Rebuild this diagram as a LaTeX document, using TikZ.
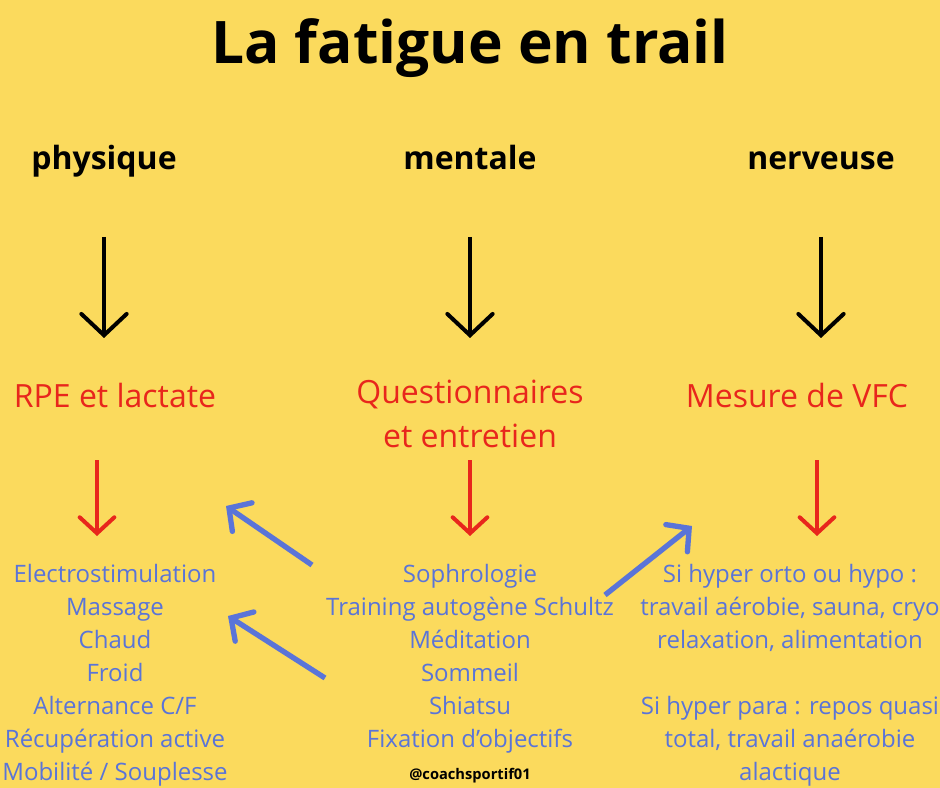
\documentclass[tikz,border=0pt]{standalone}
\usepackage{fontspec}
\setmainfont{Open Sans}
\usetikzlibrary{arrows.meta}
\definecolor{fond}{HTML}{FBDA5D}
\definecolor{rouge}{HTML}{E8261C}
\definecolor{bleu}{HTML}{5A74D8}
\tikzset{
  titre/.style={font=\bfseries\fontsize{44}{50}\selectfont},
  tete/.style={font=\bfseries\fontsize{24}{28}\selectfont, anchor=base},
  mesure/.style={text=rouge, align=center, font=\fontsize{24}{33}\selectfont},
  liste/.style={text=bleu, align=center, font=\fontsize{18}{24.75}\selectfont, anchor=north},
  noire/.style={line width=3pt, -{Straight Barb[length=16pt,width=34pt,line cap=round]}},
  fleche rouge/.style={rouge, line width=3pt, -{Straight Barb[length=12pt,width=26pt,line cap=round]}},
  fleche bleue/.style={bleu, line width=4pt, -{Straight Barb[length=12pt,width=26pt,line cap=round]}}
}
\begin{document}
\begin{tikzpicture}[x=0.75pt, y=-0.75pt]
        \fill [fond] (0, 0) rectangle (940, 788);
        \useasboundingbox (0, 0) rectangle (940, 788);
        \node [titre] (titre) at (470, 48) {La fatigue en trail};

        % colonnes
        \foreach \nom/\x/\texte in {phys/104/physique, ment/470/mentale, nerv/821/nerveuse} {
            \node [tete] (\nom) at (\x, 170) {\texte};
            \coordinate (\nom-a) at (\x, 237);
            \coordinate (\nom-b) at (\x, 338);
            \draw [noire] (\nom-a) -- (\nom-b);
        }
        \node [mesure] (rpe) at (115, 395) {RPE et lactate};
        \node [mesure, anchor=north] (quest) at (470, 375) {Questionnaires\\et entretien};
        \node [mesure] (vfc) at (797, 395) {Mesure de VFC};

        \foreach \nom/\x in {r1/97, r2/470, r3/817} {
            \coordinate (\nom-a) at (\x, 460);
            \coordinate (\nom-b) at (\x, 536);
            \draw [fleche rouge] (\nom-a) -- (\nom-b);
        }

        \node [liste] (physl) at (115, 560) {Electrostimulation\\Massage\\Chaud\\Froid\\Alternance C/F\\Récupération active\\Mobilité / Souplesse};
        \node [liste] (mentl) at (470, 560) {Sophrologie\\Training autogène Schultz\\Méditation\\Sommeil\\Shiatsu\\Fixation d'objectifs};
        \node [liste] (nervl) at (790, 560) {Si hyper orto ou hypo :\\travail aérobie, sauna, cryo\\relaxation, alimentation\\[24.75pt]Si hyper para : repos quasi\\total, travail anaérobie\\alactique};

        \coordinate (b1a) at (312, 565); \coordinate (b1b) at (226, 506);
        \coordinate (b2a) at (325, 678); \coordinate (b2b) at (228, 616);
        \coordinate (b3a) at (605, 595); \coordinate (b3b) at (692, 526);
        \draw [fleche bleue] (b1a) -- (b1b);
        \draw [fleche bleue] (b2a) -- (b2b);
        \draw [fleche bleue] (b3a) -- (b3b);

        \node [font=\bfseries\fontsize{11}{13}\selectfont] (signe) at (470, 776) {@coachsportif01};
    \end{tikzpicture}
\end{document}
